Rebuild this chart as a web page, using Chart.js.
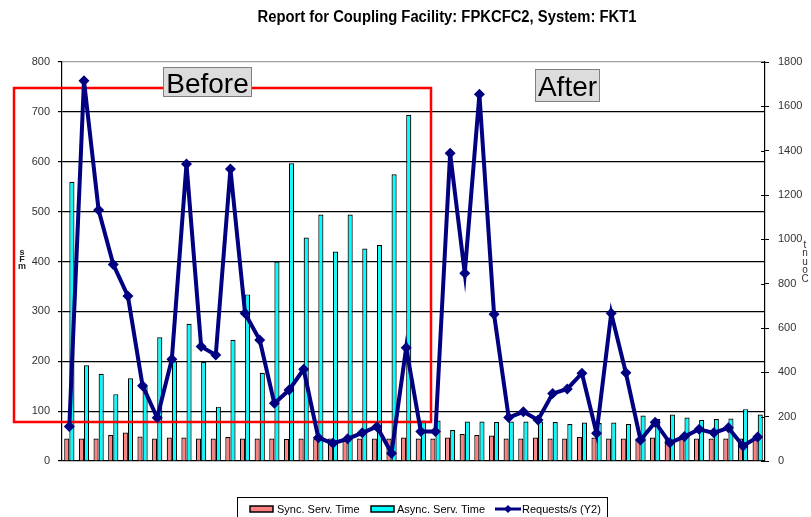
<!DOCTYPE html>
<html>
<head>
<meta charset="utf-8">
<script src="https://cdn.jsdelivr.net/npm/chart.js@4.4.0/dist/chart.umd.min.js"></script>
<style>
html, body { margin: 0; padding: 0; background: #fff; }
#wrap { width: 811px; height: 517px; position: relative; }
</style>
</head>
<body>
<div id="wrap"><canvas id="cfChart" width="811" height="517"></canvas></div>
<script>
// interval numbers (not shown on the chart)
const intervals = ['1','2','3','4','5','6','7','8','9','10','11','12','13','14','15','16',
    '17','18','19','20','21','22','23','24','25','26','27','28','29','30','31','32',
    '33','34','35','36','37','38','39','40','41','42','43','44','45','46','47','48'];

const syncServTime = [45, 45, 45, 52, 57, 49, 45, 47, 47, 45, 45, 48,
    45, 45, 45, 44, 45, 45, 45, 45, 45, 45, 45, 47,
    45, 45, 47, 54, 52, 51, 45, 45, 47, 45, 45, 48,
    47, 45, 45, 45, 47, 45, 45, 45, 45, 45, 45, 44];

const asyncServTime = [560, 192, 175, 134, 166, 150, 248, 200, 275, 199, 109, 243,
    334, 177, 400, 597, 448, 494, 420, 494, 426, 433, 575, 694,
    81, 81, 62, 79, 79, 78, 79, 79, 79, 78, 74, 77,
    76, 77, 74, 91, 84, 93, 87, 82, 84, 85, 104, 93];

const requestsPerSec = [156, 1715, 1132, 887, 744, 340, 195, 459, 1340, 516, 478, 1317,
    666, 546, 260, 320, 414, 105, 80, 100, 127, 155, 35, 511,
    133, 133, 1388, 847, 1654, 662, 196, 222, 185, 304, 325, 396,
    125, 666, 398, 95, 175, 82, 110, 143, 127, 150, 68, 108];

const leftTicks = [0, 100, 200, 300, 400, 500, 600, 700, 800];
const rightTicks = [0, 200, 400, 600, 800, 1000, 1200, 1400, 1600, 1800];

const titleText = 'Report for Coupling Facility: FPKCFC2, System: FKT1';

function drawBox(ctx, x, y, w, h, text, baseline) {
    ctx.fillStyle = '#dcdcdc';
    ctx.fillRect(x, y, w, h);
    ctx.strokeStyle = '#7f7f7f';
    ctx.lineWidth = 1;
    ctx.strokeRect(x + 0.5, y + 0.5, w - 1, h - 1);
    ctx.fillStyle = '#000';
    ctx.font = '28px "Liberation Sans", Arial, sans-serif';
    ctx.textAlign = 'center';
    ctx.textBaseline = 'alphabetic';
    ctx.fillText(text, x + w / 2, baseline);
}

const overlay = {
    id: 'overlay',
    beforeDatasetDraw(chart, args) {
        if (args.index !== 2) return;
        const ctx = chart.ctx;
        ctx.save();
        ctx.strokeStyle = '#ff0000';
        ctx.lineWidth = 2.5;
        ctx.strokeRect(14, 88, 417, 334);
        ctx.restore();
    },
    afterDraw(chart) {
        const ctx = chart.ctx;
        const y2 = chart.scales.y2;
        ctx.save();

        // inner half of the right-axis tick marks
        ctx.strokeStyle = '#000';
        ctx.lineWidth = 1;
        rightTicks.forEach(v => {
            const py = Math.round(y2.getPixelForValue(v)) + 0.5;
            ctx.beginPath();
            ctx.moveTo(y2.left - 4, py);
            ctx.lineTo(y2.left, py);
            ctx.stroke();
        });

        // title, squeezed like a narrow bold face
        ctx.fillStyle = '#000';
        ctx.font = 'bold 16px "Liberation Sans Narrow", "Liberation Sans", Arial, sans-serif';
        ctx.textAlign = 'center';
        ctx.textBaseline = 'alphabetic';
        const tw = ctx.measureText(titleText).width;
        ctx.save();
        ctx.translate(447, 22);
        ctx.scale(379 / tw, 1);
        ctx.fillText(titleText, 0, 0);
        ctx.restore();

        // Before / After labels
        drawBox(ctx, 163, 67, 89, 30, 'Before', 93);
        drawBox(ctx, 535, 69, 65, 33, 'After', 96);

        // axis titles (stacked letters as in the report)
        ctx.fillStyle = '#222';
        ctx.textAlign = 'center';
        ctx.font = 'bold 9px "Liberation Sans", Arial, sans-serif';
        ctx.fillText('s', 22, 255);
        ctx.fillText('F', 22, 262);
        ctx.fillText('m', 22, 269);
        ctx.fillStyle = '#333';
        ctx.font = '10px "Liberation Sans", Arial, sans-serif';
        ctx.fillText('t', 805, 248);
        ctx.fillText('n', 805, 256);
        ctx.fillText('u', 805, 265);
        ctx.fillText('o', 805, 273);
        ctx.fillText('C', 805, 282);

        // legend
        ctx.strokeStyle = '#000';
        ctx.lineWidth = 1;
        ctx.strokeRect(237.5, 497.5, 370, 30);
        ctx.font = '11px "Liberation Sans", Arial, sans-serif';
        ctx.textAlign = 'left';
        ctx.lineWidth = 1.5;
        ctx.fillStyle = '#ff8080';
        ctx.fillRect(250, 506, 23, 6);
        ctx.strokeRect(250, 506, 23, 6);
        ctx.fillStyle = '#00ffff';
        ctx.fillRect(371, 506, 23, 6);
        ctx.strokeRect(371, 506, 23, 6);
        ctx.strokeStyle = '#000080';
        ctx.lineWidth = 3;
        ctx.beginPath();
        ctx.moveTo(495, 509);
        ctx.lineTo(521, 509);
        ctx.stroke();
        ctx.fillStyle = '#000080';
        ctx.beginPath();
        ctx.moveTo(508, 505);
        ctx.lineTo(512, 509);
        ctx.lineTo(508, 513);
        ctx.lineTo(504, 509);
        ctx.closePath();
        ctx.fill();
        ctx.fillStyle = '#000';
        ctx.fillText('Sync. Serv. Time', 277, 513);
        ctx.fillText('Async. Serv. Time', 397, 513);
        ctx.fillText('Requests/s (Y2)', 522, 513);

        ctx.restore();
    }
};

function drawCfChart() {
    "use strict";
    let ctx = document.getElementById("cfChart");
    let cfChart = new Chart(ctx, {
        type: 'bar',
        data: {
            labels: intervals,
            datasets: [{
                label: 'Sync. Serv. Time',
                data: syncServTime,
                backgroundColor: '#ff8080',
                borderColor: '#000',
                borderWidth: 1.2,
                yAxisID: 'y',
                order: 1
            }, {
                label: 'Async. Serv. Time',
                data: asyncServTime,
                backgroundColor: '#00ffff',
                borderColor: '#000',
                borderWidth: 1.2,
                yAxisID: 'y',
                order: 1
            }, {
                type: 'line',
                label: 'Requests/s (Y2)',
                data: requestsPerSec,
                borderColor: '#000080',
                backgroundColor: '#000080',
                borderWidth: 4,
                pointStyle: 'rectRot',
                pointRadius: 5.5,
                pointBorderWidth: 0,
                pointBackgroundColor: '#000080',
                tension: 0,
                yAxisID: 'y2',
                order: 0
            }]
        },
        options: {
            responsive: false,
            animation: false,
            devicePixelRatio: 1,
            categoryPercentage: 0.7,
            barPercentage: 1.0,
            layout: { padding: { top: 62, bottom: 56, left: 0, right: 0 } },
            plugins: {
                legend: { display: false },
                title: { display: false },
                tooltip: { enabled: false }
            },
            scales: {
                x: { display: false, offset: true },
                y: {
                    position: 'left',
                    min: leftTicks[0],
                    max: leftTicks[leftTicks.length - 1],
                    afterFit: s => { s.width = 62; },
                    ticks: {
                        stepSize: leftTicks[1] - leftTicks[0],
                        color: '#333',
                        padding: 8,
                        callback: v => String(v),
                        font: { family: '"Liberation Sans", Arial, sans-serif', size: 11 }
                    },
                    grid: {
                        color: c => (c.tick && c.tick.value === 800) ? '#a0a0a0' : '#000',
                        lineWidth: 1.2,
                        tickLength: 4,
                        tickColor: '#000'
                    },
                    border: { display: true, color: '#000', width: 1.2 }
                },
                y2: {
                    position: 'right',
                    min: rightTicks[0],
                    max: rightTicks[rightTicks.length - 1],
                    afterFit: s => { s.width = 46; },
                    ticks: {
                        stepSize: rightTicks[1] - rightTicks[0],
                        color: '#333',
                        padding: 9,
                        callback: v => String(v),
                        font: { family: '"Liberation Sans", Arial, sans-serif', size: 11 }
                    },
                    grid: {
                        drawOnChartArea: false,
                        tickLength: 4,
                        tickColor: '#000'
                    },
                    border: { display: true, color: '#000', width: 1.2 }
                }
            }
        },
        plugins: [overlay]
    });
}
drawCfChart();
</script>
</body>
</html>
